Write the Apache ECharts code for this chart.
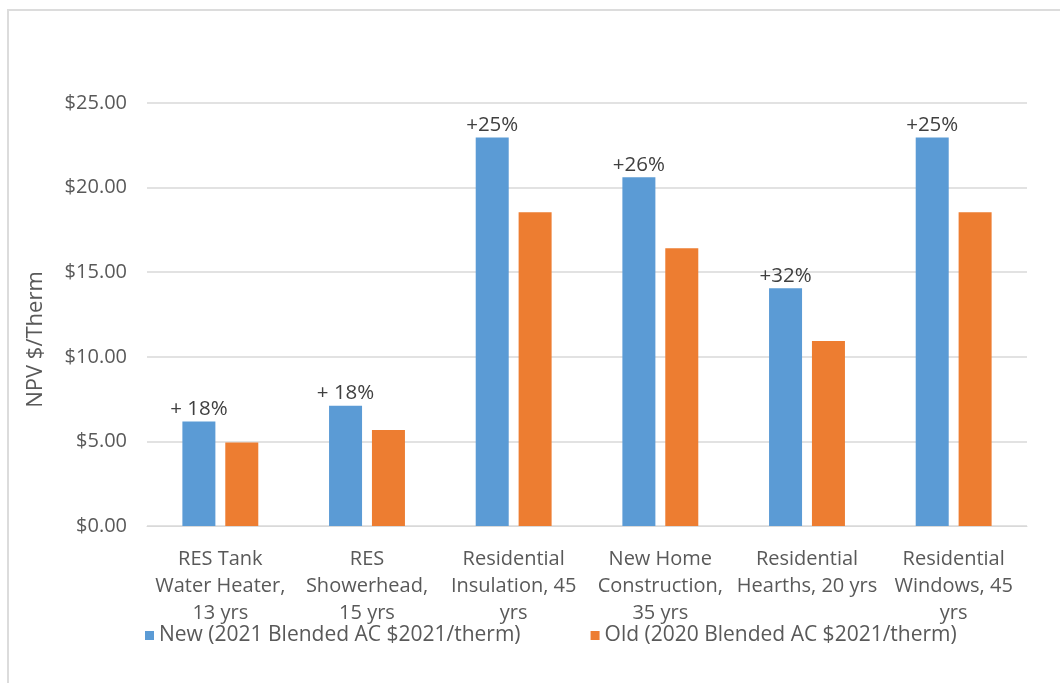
<!DOCTYPE html>
<html>
<head>
<meta charset="utf-8">
<script src="https://cdn.jsdelivr.net/npm/echarts@6/dist/echarts.min.js"></script>
<style>
  html, body { margin: 0; padding: 0; background: #fff; }
  #frame { position: absolute; left: 7px; top: 9px; width: 1053px; height: 674px;
           border-left: 2px solid #dcdcdc; border-top: 2px solid #dcdcdc; }
  #main { position: absolute; left: 0; top: 0; width: 1060px; height: 683px; }
</style>
</head>
<body>
<div id="frame"></div>
<div id="main"></div>
<script>
// categories and values
var categories = [
  'RES Tank\nWater Heater,\n13 yrs',
  'RES\nShowerhead,\n15 yrs',
  'Residential\nInsulation, 45\nyrs',
  'New Home\nConstruction,\n35 yrs',
  'Residential\nHearths, 20 yrs',
  'Residential\nWindows, 45\nyrs'
];
var newValues = [6.17, 7.11, 22.96, 20.61, 14.05, 22.96];
var oldValues = [4.93, 5.67, 18.54, 16.41, 10.94, 18.54];
var changeLabels = ['+ 18%', '+ 18%', '+25%', '+26%', '+32%', '+25%'];

var myChart = echarts.init(document.getElementById('main'));
var font = '"Open Sans", "Noto Sans", sans-serif';

myChart.setOption({
  animation: false,
  textStyle: { fontFamily: font },
  grid: { left: 147, right: 33, top: 103, bottom: 157 },
  legend: {
    left: 140, top: 620,
    itemWidth: 9, itemHeight: 9, itemGap: 70, itemTextGap: 5,
    icon: 'rect',
    textStyle: { fontSize: 21, color: '#595959', fontFamily: font }
  },
  xAxis: {
    type: 'category',
    data: categories,
    axisLine: { lineStyle: { color: '#d9d9d9', width: 1 } },
    axisTick: { show: false },
    axisLabel: { interval: 0, fontSize: 20, color: '#595959', lineHeight: 27, margin: 20 }
  },
  yAxis: {
    type: 'value',
    min: 0, max: 25, interval: 5,
    name: 'NPV $/Therm',
    nameLocation: 'middle',
    nameGap: 100,
    nameTextStyle: { fontSize: 22, color: '#595959', padding: [0, 50, 0, 0] },
    axisLabel: {
      fontSize: 20, color: '#595959', margin: 20,
      formatter: function (v) { return '$' + v.toFixed(2); }
    },
    splitLine: { lineStyle: { color: '#d9d9d9', width: 1.5 } }
  },
  series: [
    {
      name: 'New (2021 Blended AC $2021/therm)',
      type: 'bar',
      data: newValues,
      barWidth: '22.5%',
      barGap: '30%',
      itemStyle: { color: '#5b9bd5' },
      label: {
        show: true, position: 'top', distance: 2,
        fontSize: 20.5, color: '#404040',
        formatter: function (p) { return changeLabels[p.dataIndex]; }
      }
    },
    {
      name: 'Old (2020 Blended AC $2021/therm)',
      type: 'bar',
      data: oldValues,
      barWidth: '22.5%',
      itemStyle: { color: '#ed7d31' }
    }
  ]
});
</script>
</body>
</html>
